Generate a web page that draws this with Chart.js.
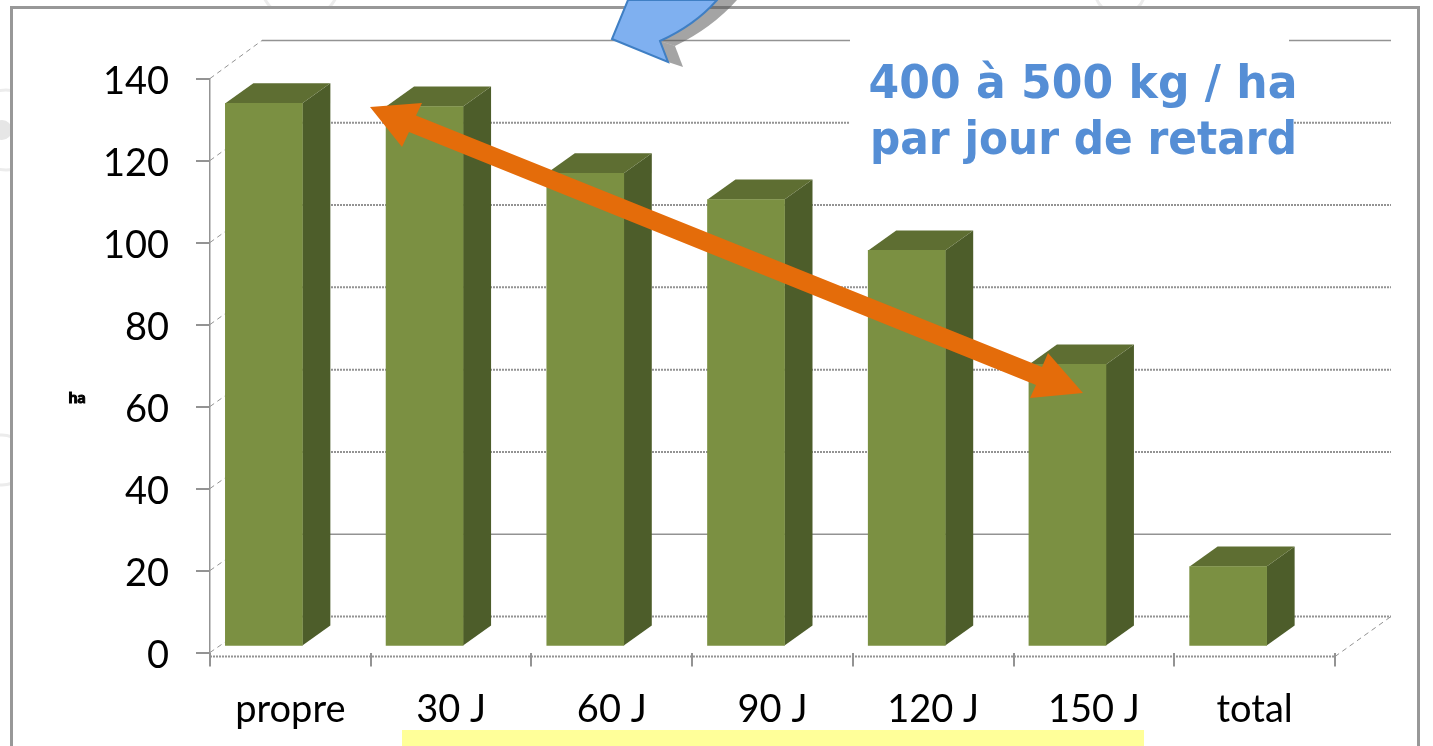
<!DOCTYPE html>
<html>
<head>
<meta charset="utf-8">
<title>Rendement selon le retard</title>
<script src="https://cdn.jsdelivr.net/npm/chart.js@4"></script>
<style>
  body { margin: 0; background: #fff; overflow: hidden; }
  #wrap { width: 1433px; height: 746px; }
</style>
</head>
<body>
<div id="wrap"><canvas id="myChart"></canvas></div>
<script>
"use strict";

const categories = ["propre", "30 J", "60 J", "90 J", "120 J", "150 J", "total"];
const yields = [132.5, 131.7, 115.4, 109, 96.6, 68.8, 19.5];
const yTicks = [0, 20, 40, 60, 80, 100, 120, 140];
const noteLines = ["400 à 500 kg / ha", "par jour de retard"];
const axisTitle = "ha";

const LABEL_FONT = "Lato, sans-serif";
const NOTE_FONT = "'DejaVu Sans', sans-serif";
const AXIS_GREY = "#939393";

// Depth of the fake 3D box
const BAR_DX = 28;
const BAR_DY = -20;
const FRONT_SHIFT_X = -26.5;
const FRONT_SHIFT_Y = -6;

function poly(ctx, pts, fill) {
  ctx.beginPath();
  pts.forEach((p, i) => (i ? ctx.lineTo(p[0], p[1]) : ctx.moveTo(p[0], p[1])));
  ctx.closePath();
  ctx.fillStyle = fill;
  ctx.fill();
}

const wallPlugin = {
  id: "wall",
  // Frame and faint watermark, before the axes are drawn
  beforeDraw(chart) {
    const ctx = chart.ctx;
    ctx.save();
    ctx.strokeStyle = "#ececec";
    ctx.lineWidth = 3;
    [[6, 130, 40], [300, -20, 40], [2, 460, 25], [1120, -10, 25]].forEach((c) => {
      ctx.beginPath();
      ctx.arc(c[0], c[1], c[2], 0, Math.PI * 2);
      ctx.stroke();
    });
    ctx.fillStyle = "#e6e6e6";
    ctx.beginPath();
    ctx.arc(2, 130, 10, 0, Math.PI * 2);
    ctx.fill();
    ctx.fillStyle = "#fff";
    ctx.fillRect(12, 8, 1406, 738);
    ctx.strokeStyle = "#989898";
    ctx.lineWidth = 3;
    ctx.beginPath();
    ctx.moveTo(11.5, 746);
    ctx.lineTo(11.5, 7.5);
    ctx.lineTo(1418.5, 7.5);
    ctx.lineTo(1418.5, 746);
    ctx.stroke();
    ctx.restore();
  },
  // Back wall and side wall lines
  beforeDatasetsDraw(chart) {
    const ctx = chart.ctx;
    const y = chart.scales.y;
    const left = chart.chartArea.left;
    const right = chart.chartArea.right;
    const zero = y.getPixelForValue(0);
    ctx.save();
    ctx.strokeStyle = AXIS_GREY;
    yTicks.forEach((t) => {
      const py = y.getPixelForValue(t);
      const backY = py - 36 - (t / 140) * 2;
      ctx.lineWidth = t === 140 || t === 20 ? 1.5 : 2;
      ctx.setLineDash(t === 140 || t === 20 ? [] : [2, 1]);
      ctx.beginPath();
      ctx.moveTo(left + 52, backY);
      ctx.lineTo(1391, backY);
      ctx.stroke();
      ctx.setLineDash([5, 4]);
      ctx.lineWidth = 1;
      ctx.beginPath();
      ctx.moveTo(left, py);
      ctx.lineTo(left + 52, backY);
      ctx.stroke();
    });
    ctx.beginPath();
    ctx.moveTo(right, zero + 4);
    ctx.lineTo(1391, zero - 36);
    ctx.stroke();
    // the category axis runs a little below the zero tick
    ctx.lineWidth = 2;
    ctx.setLineDash([2, 1]);
    ctx.beginPath();
    ctx.moveTo(left, zero + 4);
    ctx.lineTo(right, zero + 4);
    ctx.stroke();
    ctx.restore();
  },
  // side and top faces go under the translated front faces
  beforeDatasetDraw(chart, args) {
    const ctx = chart.ctx;
    ctx.save();
    ctx.translate(FRONT_SHIFT_X, FRONT_SHIFT_Y);
    args.meta.data.forEach((bar) => {
      const l = bar.x - bar.width / 2;
      const r = bar.x + bar.width / 2;
      poly(ctx, [[r, bar.y], [r + BAR_DX, bar.y + BAR_DY], [r + BAR_DX, bar.base + BAR_DY], [r, bar.base]], "#4d5d2a");
      poly(ctx, [[l, bar.y], [l + BAR_DX, bar.y + BAR_DY], [r + BAR_DX, bar.y + BAR_DY], [r, bar.y]], "#5e6e32");
    });
  },
  afterDatasetDraw(chart) {
    chart.ctx.restore();
  },
  afterDraw(chart) {
    const ctx = chart.ctx;
    ctx.save();

    // note box cuts the back wall lines
    ctx.fillStyle = "#fff";
    ctx.fillRect(850, 30, 439, 135);
    ctx.fillStyle = "#558ed5";
    ctx.font = "bold 45.5px " + NOTE_FONT;
    ctx.textAlign = "center";
    ctx.fillText(noteLines[0], 1083, 98, 429);
    ctx.fillText(noteLines[1], 1083.5, 154, 427);

    // orange double arrow
    poly(ctx, [[370, 107], [422, 103], [416, 115.5], [1042, 367], [1048, 353], [1083, 393], [1030, 398], [1036, 385], [409, 132], [402, 147]], "#e46c0a");

    // blue arrow coming from above, its shadow lets the frame show through
    const shadow = "rgba(90,90,90,0.55)";
    poly(ctx, [[668, 62], [660, 41], [675, 46], [683, 67]], shadow);
    ctx.beginPath();
    ctx.moveTo(660, 41);
    ctx.lineTo(675, 46);
    ctx.quadraticCurveTo(712, 28, 737, 0);
    ctx.lineTo(717, 0);
    ctx.quadraticCurveTo(695, 25, 660, 41);
    ctx.closePath();
    ctx.fillStyle = shadow;
    ctx.fill();
    ctx.beginPath();
    ctx.moveTo(612, 39);
    ctx.lineTo(668, 62);
    ctx.lineTo(660, 41);
    ctx.quadraticCurveTo(695, 25, 717, 0);
    ctx.lineTo(628, 0);
    ctx.closePath();
    ctx.fillStyle = "#7fb0f0";
    ctx.fill();
    ctx.strokeStyle = "#3f7fc4";
    ctx.lineWidth = 2;
    ctx.stroke();

    // yellow strip under the delay labels
    ctx.fillStyle = "#ffff99";
    ctx.fillRect(402, 730, 742, 16);

    // squashed axis title
    ctx.fillStyle = "#000";
    ctx.strokeStyle = "#000";
    ctx.lineWidth = 1;
    ctx.font = "bold 16px " + LABEL_FONT;
    ctx.textAlign = "center";
    ctx.fillText(axisTitle, 77, 403);
    ctx.strokeText(axisTitle, 77, 403);
    ctx.restore();
  },
};

new Chart("myChart", {
  type: "bar",
  data: {
    labels: categories,
    datasets: [{
      data: yields,
      backgroundColor: "#7b9042",
      borderWidth: 0,
      barThickness: 77,
      clip: false,
    }],
  },
  options: {
    responsive: true,
    maintainAspectRatio: false,
    animation: false,
    layout: { padding: { left: 0, top: 78.5, right: 98, bottom: 0 } },
    plugins: { legend: { display: false }, tooltip: { enabled: false } },
    scales: {
      x: {
        afterFit(scale) { scale.height = 93.5; },
        grid: { drawOnChartArea: false, color: AXIS_GREY, lineWidth: 2, tickLength: 14 },
        border: { display: false },
        ticks: { color: "#000", font: { family: LABEL_FONT, size: 38 }, padding: 20, maxRotation: 0 },
      },
      y: {
        min: 0,
        max: 140,
        afterFit(scale) { scale.width = 210; },
        afterBuildTicks(scale) { scale.ticks = yTicks.map((v) => ({ value: v })); },
        grid: { drawOnChartArea: false, color: AXIS_GREY, lineWidth: 2, tickLength: 14 },
        border: { color: AXIS_GREY, width: 1.5, dash: [2, 1] },
        ticks: { color: "#000", font: { family: LABEL_FONT, size: 38 }, padding: 27, labelOffset: 3 },
      },
    },
  },
  plugins: [wallPlugin],
});
</script>
</body>
</html>
